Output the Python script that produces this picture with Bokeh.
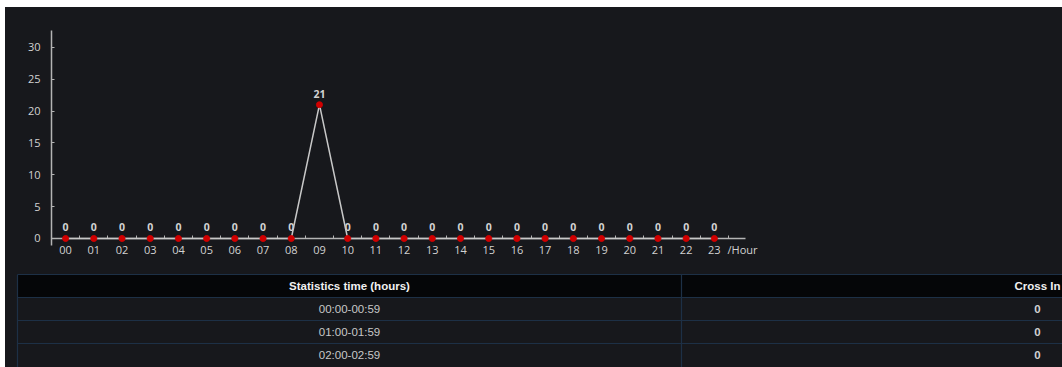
from bokeh.plotting import figure
from bokeh.layouts import column, row
from bokeh.models import FixedTicker, Range1d, ColumnDataSource
from bokeh.core.properties import value
from bokeh.embed import file_html
from bokeh.resources import INLINE

# ---- data ----
hours = ["00", "01", "02", "03", "04", "05", "06", "07", "08", "09", "10", "11",
         "12", "13", "14", "15", "16", "17", "18", "19", "20", "21", "22", "23"]
counts = [0, 0, 0, 0, 0, 0, 0, 0, 0, 21, 0, 0,
          0, 0, 0, 0, 0, 0, 0, 0, 0, 0, 0, 0]
y_ticks = [0, 5, 10, 15, 20, 25, 30]
x_unit = "/Hour"

table_headers = ["Statistics time (hours)", "Cross In"]
table_times = ["00:00-00:59", "01:00-01:59", "02:00-02:59"]
table_cross_in = [0, 0, 0]

# ---- style ----
BG = "#17181c"
AXIS = "#b4b4b4"
LABEL = "#d2d2d2"
FONT = "Open Sans"
W = 1057

idx = list(range(len(hours)))
src = ColumnDataSource(dict(x=idx, y=counts, t=[str(c) for c in counts]))

p = figure(width=W, height=263, output_backend="svg", toolbar_location=None,
           x_range=Range1d(-0.5, 24.6), y_range=Range1d(-3.14, 32.65),
           min_border_left=46, min_border_right=303, min_border_top=23,
           min_border_bottom=12, background_fill_color=None, border_fill_color=None,
           outline_line_color=None)
p.styles = {"background-color": BG}
p.grid.visible = False

# x axis
unit_pos = len(hours)
xa = p.xaxis[0]
xa.ticker = FixedTicker(ticks=idx + [unit_pos],
                        minor_ticks=[i + 0.5 for i in range(-1, 24)])
labels = {i: h for i, h in zip(idx, hours)}
labels[unit_pos] = x_unit
xa.major_label_overrides = labels
xa.fixed_location = 0
xa.bounds = (-0.5, 24.1)
xa.axis_line_color = AXIS
xa.axis_line_width = 1.5
xa.major_tick_line_color = None
xa.major_tick_in = 0
xa.major_tick_out = 0
xa.minor_tick_line_color = AXIS
xa.minor_tick_in = 3
xa.minor_tick_out = 0
xa.major_label_standoff = 4
xa.major_label_text_color = LABEL
xa.major_label_text_font = FONT
xa.major_label_text_font_size = "11px"

# y axis
ya = p.yaxis[0]
ya.ticker = FixedTicker(ticks=y_ticks)
ya.bounds = (-1.1, 32.65)
ya.axis_line_color = AXIS
ya.axis_line_width = 1.5
ya.major_tick_line_color = AXIS
ya.major_tick_in = 3
ya.major_tick_out = 0
ya.minor_tick_line_color = None
ya.major_label_standoff = 11
ya.major_label_text_color = LABEL
ya.major_label_text_font = FONT
ya.major_label_text_font_size = "11px"

p.line("x", "y", source=src, line_color="#c8c8c8", line_width=1.5, level="annotation")
p.scatter("x", "y", source=src, size=6, fill_color="#d00000", line_color="#d00000",
          level="annotation")
p.text("x", "y", text="t", source=src, text_color=LABEL, text_font=value(FONT),
       text_font_size="10.5px", text_font_style="bold", text_align="center",
       text_baseline="bottom", y_offset=-7)

# ---- table ----
n_rows = len(table_times)
TH = 97
RH = 23
LINE = "#1d3046"
t = figure(width=W, height=TH, output_backend="svg", toolbar_location=None,
           x_range=Range1d(0, W), y_range=Range1d(TH / RH - 4 / RH, -4 / RH),
           min_border=0, background_fill_color=None, border_fill_color=None,
           outline_line_color=None)
t.styles = {"background-color": BG}
t.axis.visible = False
t.grid.visible = False

col_edges = [12, 676, 1388]
centers = [(col_edges[i] + col_edges[i + 1]) / 2 for i in range(2)]

t.quad(left=col_edges[0], right=W + 10, top=0, bottom=1, fill_color="#050608",
       line_color=None)
rows_y = list(range(0, n_rows + 1))
t.segment(x0=[col_edges[0]] * len(rows_y), x1=[W + 10] * len(rows_y),
          y0=rows_y, y1=rows_y, line_color=LINE, line_width=1.2)
t.segment(x0=col_edges[:2], x1=col_edges[:2], y0=[0, 0], y1=[TH / RH, TH / RH],
          line_color=LINE, line_width=1.2)

TFONT = value("Liberation Sans")
t.text(x=centers, y=[0.5, 0.5], text=table_headers, text_color="#f0f0f0",
       text_font=TFONT, text_font_size="11.5px",
       text_font_style="bold", text_align="center", text_baseline="middle")
t.text(x=[centers[0]] * n_rows, y=[i + 1.5 for i in range(n_rows)], text=table_times,
       text_color="#c8c8c8", text_font=TFONT,
       text_font_size="11.5px", text_align="center", text_baseline="middle")
t.text(x=[centers[1]] * n_rows, y=[i + 1.5 for i in range(n_rows)],
       text=[str(v) for v in table_cross_in], text_color="#d2d2d2",
       text_font=TFONT, text_font_size="11.5px",
       text_font_style="bold", text_align="center", text_baseline="middle")

layout = column(p, row(t, spacing=0), spacing=0, margin=(7, 0, 0, 5))
layout.styles = {"background-color": BG}
open("out.html", "w").write(file_html(layout, INLINE))
